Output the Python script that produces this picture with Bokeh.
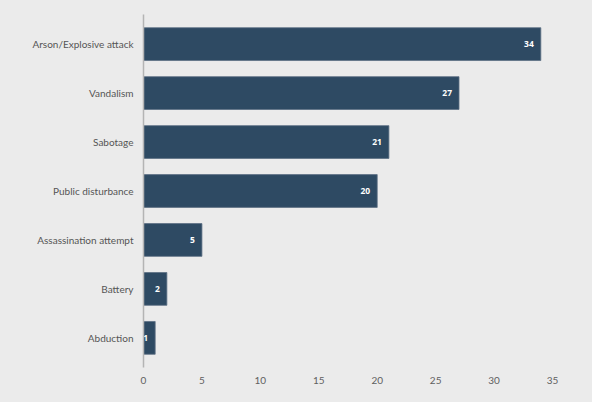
from bokeh.plotting import figure
from bokeh.models import ColumnDataSource, Range1d, FactorRange, GlobalInlineStyleSheet
from bokeh.embed import file_html
from bokeh.resources import INLINE

# dados
categorias = ["Arson/Explosive attack", "Vandalism", "Sabotage", "Public disturbance",
              "Assassination attempt", "Battery", "Abduction"]
valores = [34, 27, 21, 20, 5, 2, 1]
ticks_x = [0, 5, 10, 15, 20, 25, 30, 35]

fundo = "#ebebeb"
cor_barra = "#2e4a63"

src = ColumnDataSource(dict(cat=categorias, val=valores, lbl=[str(v) for v in valores]))

ordem = list(reversed(categorias))
p = figure(width=592, height=402, output_backend="svg", toolbar_location=None,
           y_range=FactorRange(factors=ordem, range_padding=0.105, range_padding_units="absolute"),
           x_range=Range1d(0, 35))

p.hbar(y="cat", right="val", left=0, height=0.67, source=src,
       fill_color=cor_barra, line_color="#5d7084", line_width=0.8)

# rótulos dentro das barras
p.text(x="val", y="cat", text="lbl", source=src, x_offset=-7,
       text_align="right", text_baseline="middle", text_color="white",
       text_font_size="8.5px", text_font_style="bold", text_font={"value": "Open Sans"})

p.background_fill_color = fundo
p.border_fill_color = fundo
p.outline_line_color = None
p.min_border_left = 143
p.min_border_right = 40
p.min_border_top = 14
p.min_border_bottom = 35

p.xgrid.grid_line_color = None
p.ygrid.grid_line_color = None

p.xaxis.ticker = ticks_x
p.xaxis.axis_line_color = None
p.xaxis.major_tick_line_color = None
p.xaxis.minor_tick_line_color = None
p.xaxis.major_tick_out = 0
p.xaxis.major_label_standoff = 9
p.xaxis.major_label_text_font = "Lato"
p.xaxis.major_label_text_font_size = "10px"
p.xaxis.major_label_text_color = "#5f5f5f"

p.yaxis.axis_line_color = "#b4b4b4"
p.yaxis.axis_line_width = 1.5
p.yaxis.major_tick_line_color = None
p.yaxis.major_tick_out = 0
p.yaxis.major_label_standoff = 10
p.yaxis.major_label_text_font = "Lato"
p.yaxis.major_label_text_font_size = "10px"
p.yaxis.major_label_text_color = "#555555"

p.stylesheets = [GlobalInlineStyleSheet(css="body { background: #ebebeb; margin: 0; }")]

open("out.html", "w").write(file_html(p, INLINE))
